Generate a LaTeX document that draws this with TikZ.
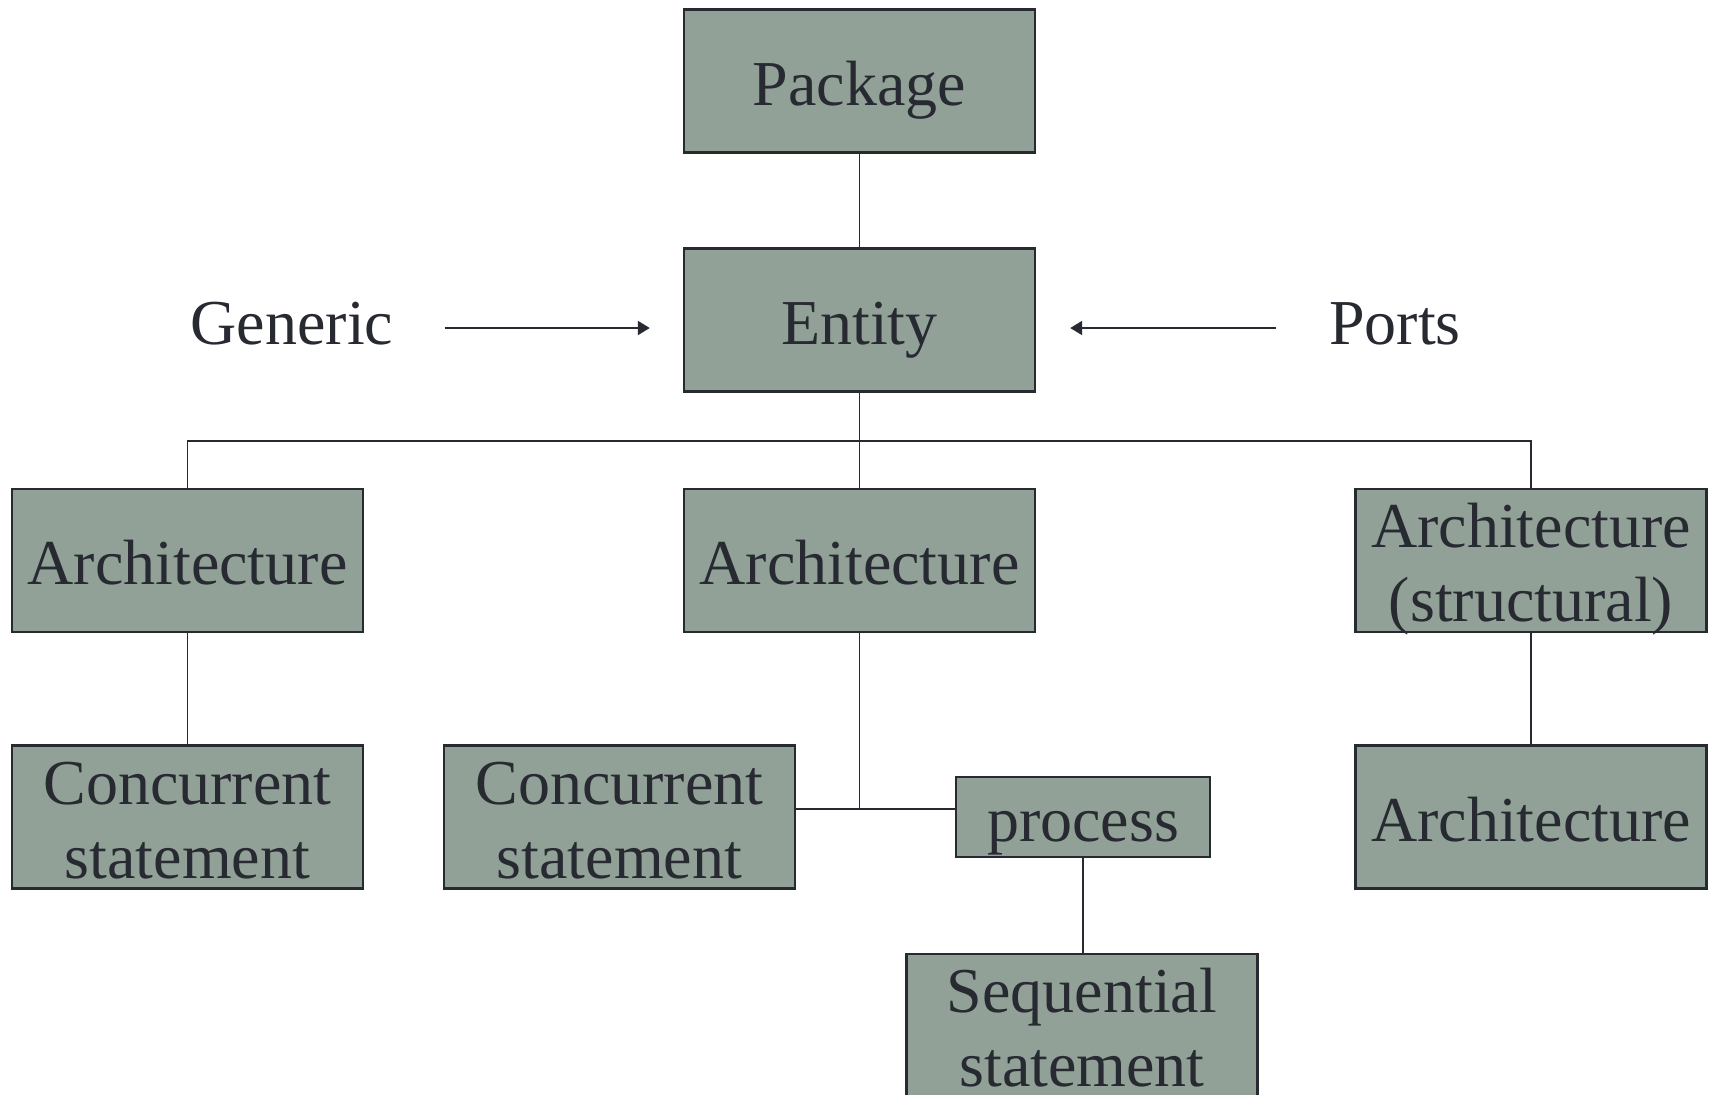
\documentclass[tikz,border=0pt]{standalone}
\usepackage{fontspec}
\setmainfont{Liberation Serif}
\usetikzlibrary{arrows.meta}
\definecolor{boxfill}{RGB}{146,161,151}
\definecolor{ink}{RGB}{40,42,50}
% one text line with a fixed height/depth, so every line sits at the same spot in its box
\newcommand\lne[1]{\rule[-0.16em]{0pt}{1.07em}\smash{#1}}
\begin{document}
\begin{tikzpicture}[x=0.5pt,y=-0.5pt,
  every node/.style={font=\fontsize{32}{37}\selectfont, text=ink},
  blk/.style={draw=ink, line width=1.2pt, fill=boxfill, rectangle, inner sep=0pt,
    align=center, minimum width=175.5pt, minimum height=71.5pt},
  lbl/.style={inner sep=0pt},
  conn/.style={draw=ink, line width=0.8pt},
  arr/.style={draw=ink, line width=1pt, -{Triangle[length=6pt,width=7pt]}}]
\useasboundingbox (0,0) rectangle (1714,1094);
\fill[white] (0,0) rectangle (1714,1094);
\clip (0,0) rectangle (1714,1094);

% boxes
\node[blk] (package) at (859.5,81) {\lne{Package}};
\node[blk] (entity)  at (859.5,320) {\lne{Entity}};
\node[blk] (archL)   at (187.5,560.5) {\lne{Architecture}};
\node[blk] (archM)   at (859.5,560.5) {\lne{Architecture}};
\node[blk] (archR)   at (1531,560.5) {\lne{Architecture}\\\lne{(structural)}};
\node[blk] (concL)   at (187.5,817) {\lne{Concurrent}\\\lne{statement}};
\node[blk] (concM)   at (619.5,817) {\lne{Concurrent}\\\lne{statement}};
\node[blk] (archR2)  at (1531,817) {\lne{Architecture}};
\node[blk, minimum width=127pt, minimum height=40pt] (process) at (1083,817) {\lne{process}};
\node[blk, anchor=north] (seq) at (1082,953) {\lne{Sequential}\\\lne{statement}};

% side labels
\node[lbl] (generic) at (292,320) {\lne{Generic}};
\node[lbl] (ports)   at (1395,320) {\lne{Ports}};

% inputs to the entity
\draw[arr, shorten <=25.5pt, shorten >=16.5pt] (generic.east |- 0,328) -- (entity.west |- 0,328);
\draw[arr, shorten <=26.5pt, shorten >=17pt] (ports.west |- 0,328) -- (entity.east |- 0,328);

% tree connectors
\coordinate (bus) at (859.5,441);
\coordinate (junc) at (859.5,809);
\draw[conn] (package.south) -- (entity.north);
\draw[conn] (entity.south) -- (archM.north);
\draw[conn] (archL.north) |- (bus) -| (archR.north);
\draw[conn] (archL.south) -- (concL.north);
\draw[conn] (archR.south) -- (archR2.north);
\draw[conn] (archM.south) -- (junc);
\draw[conn] (concM.east |- junc) -- (process.west |- junc);
\draw[conn] (process.south) -- (seq.north -| process.south);
\end{tikzpicture}
\end{document}
